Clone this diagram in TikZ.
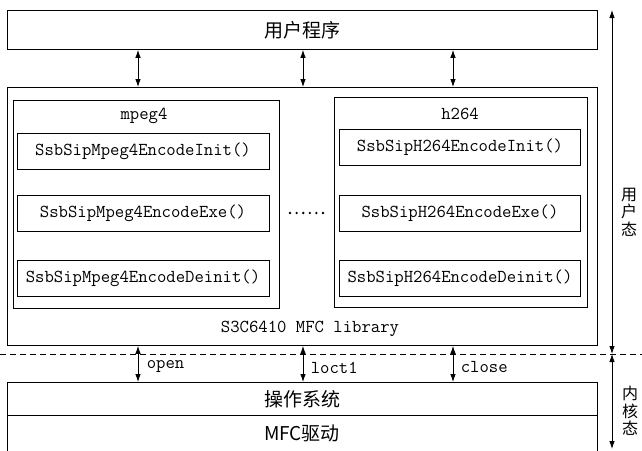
\documentclass[tikz,border=0pt]{standalone}
\usepackage{fontspec}
\newfontfamily\cjk{Noto Sans CJK SC}
\usetikzlibrary{arrows.meta}

\begin{document}
\begin{tikzpicture}[x=1pt, y=-1pt, line width=0.9pt,
  box/.style={draw, rectangle, inner sep=0pt, anchor=north west},
  fn/.style={draw, rectangle, inner sep=0pt, minimum height=36pt,
    font=\fontsize{18.2}{18}\selectfont\ttfamily},
  lbl/.style={font=\fontsize{18.2}{18}\selectfont\ttfamily},
  zh/.style={font=\fontsize{19}{19}\selectfont\cjk},
  side/.style={font=\fontsize{16}{17.5}\selectfont\cjk, align=center},
  link/.style={{Latex[length=8pt,width=5.5pt]}-{Latex[length=8pt,width=5.5pt]}, line width=0.8pt}]
  \useasboundingbox (0,0) rectangle (642,450);
  \clip (0,0) rectangle (642,450);

  \node[box, minimum width=590pt, minimum height=39pt, zh] (app) at (7,10) {用户程序};
  \node[box, minimum width=590pt, minimum height=258pt] (lib) at (7,87) {};
  \node[lbl] (libname) at (310,329) {S3C6410 MFC library};

  % mpeg4
  \node[box, minimum width=266pt, minimum height=208pt] (mpeg) at (13,100) {};
  \node[lbl] (mpegname) at (144,116) {mpeg4};
  \node[fn, minimum width=252pt] (minit) at (143,151) {SsbSipMpeg4EncodeInit()};
  \node[fn, minimum width=252pt] (mexe) at (143,213) {SsbSipMpeg4EncodeExe()};
  \node[fn, minimum width=252pt] (mdeinit) at (143,278) {SsbSipMpeg4EncodeDeinit()};

  % h264
  \node[box, minimum width=253pt, minimum height=210pt] (h) at (334,97) {};
  \node[lbl] (hname) at (460,114) {h264};
  \node[fn, minimum width=241pt] (hinit) at (460,147) {SsbSipH264EncodeInit()};
  \node[fn, minimum width=241pt] (hexe) at (460,213) {SsbSipH264EncodeExe()};
  \node[fn, minimum width=241pt] (hdeinit) at (460,278) {SsbSipH264EncodeDeinit()};

  \foreach \i in {0,...,5}
    \fill (290+6.6*\i,213) circle[radius=1.3];

  \draw[dashed, dash pattern=on 6pt off 4pt] (0,354) -- (642,354);

  \node[box, minimum width=590pt, minimum height=33pt, zh] (os) at (7,382) {操作系统};
  \node[box, minimum width=590pt, minimum height=40pt] (drv) at (7,415) {};
  \node[zh] (drvname) at (302,433) {MFC驱动};

  \coordinate (c1) at (138,0);
  \coordinate (c2) at (303,0);
  \coordinate (c3) at (453,0);
  \foreach \c in {c1,c2,c3} {
    \draw[link] (app.south -| \c) -- (lib.north -| \c);
    \draw[link] (lib.south -| \c) -- (os.north -| \c);
  }
  \node[lbl, anchor=west] (open) at (143,367) {open};
  \node[lbl, anchor=west] (ioctl) at (307,368) {loct1};
  \node[lbl, anchor=west] (close) at (457,367) {close};

  \coordinate (utop) at (612,10);
  \coordinate (umid) at (612,354);
  \coordinate (kbot) at (612,449);
  \draw[link] (utop) -- (umid);
  \draw[link] (umid) -- (kbot);
  \node[side] (user) at (629,212) {用\\户\\态};
  \node[side] (kernel) at (630,411) {内\\核\\态};
\end{tikzpicture}
\end{document}
